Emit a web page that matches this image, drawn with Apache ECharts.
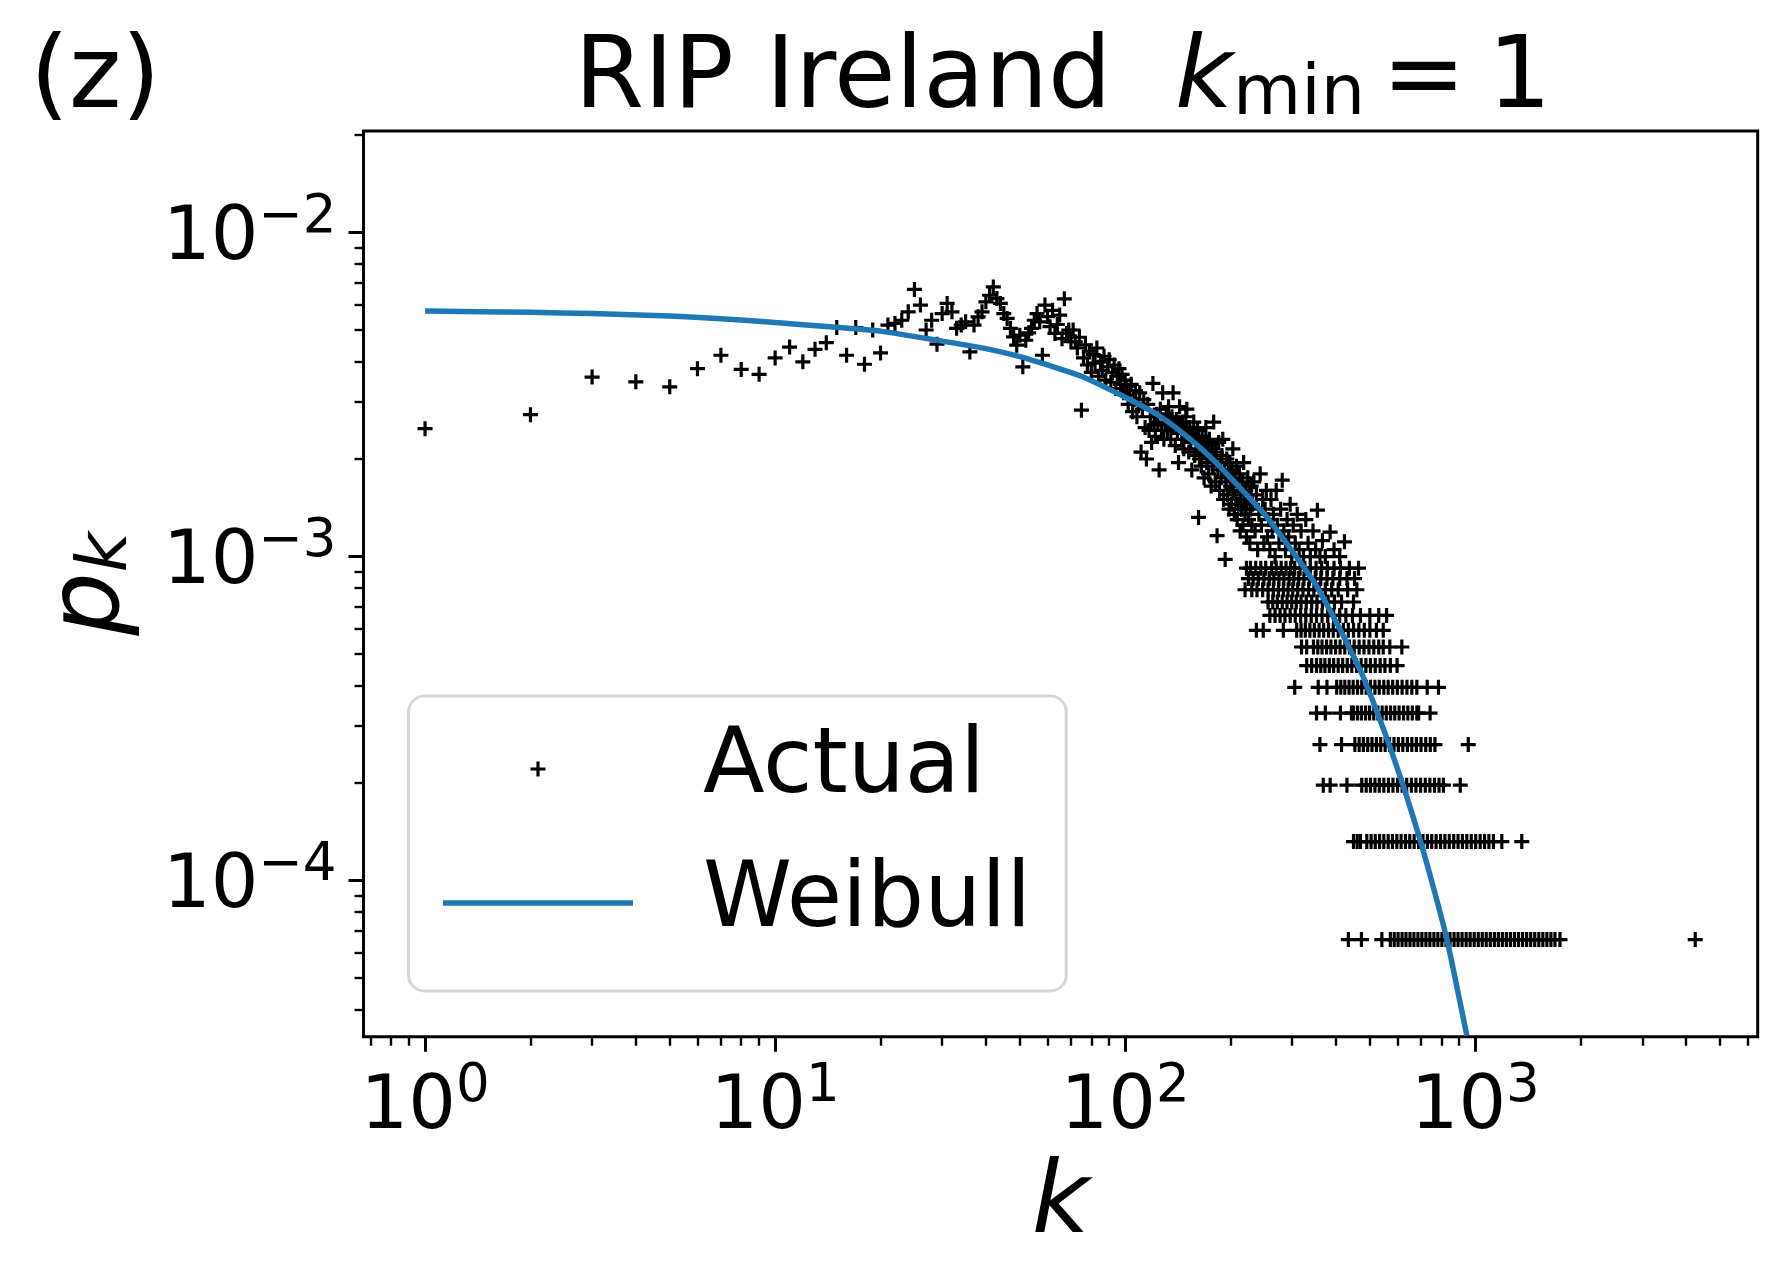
<!DOCTYPE html>
<html>
<head>
<meta charset="utf-8">
<script src="https://cdn.jsdelivr.net/npm/echarts@6/dist/echarts.min.js"></script>
<style>
  html, body { margin: 0; padding: 0; background: #fff; }
  #main { width: 1788px; height: 1283px; }
</style>
</head>
<body>
<div id="main"></div>
<script>
// degree distribution p_k
const kActual = [
  1, 2, 3, 4, 5, 6, 7, 8, 9, 10,
  11, 12, 13, 14, 15, 16, 17, 18, 19, 20,
  21, 22, 23, 24, 25, 26, 27, 28, 29, 30,
  31, 32, 33, 34, 35, 36, 37, 38, 39, 40,
  41, 42, 43, 44, 45, 46, 47, 48, 49, 50,
  51, 52, 53, 54, 55, 56, 57, 58, 59, 60,
  61, 62, 63, 64, 65, 66, 67, 68, 69, 70,
  71, 72, 73, 74, 75, 76, 77, 78, 79, 80,
  81, 82, 83, 84, 85, 86, 87, 88, 89, 90,
  91, 92, 93, 94, 95, 96, 97, 98, 99, 100,
  101, 102, 103, 104, 105, 106, 107, 108, 109, 110,
  111, 112, 113, 114, 115, 116, 117, 118, 119, 120,
  121, 122, 123, 124, 125, 126, 127, 128, 129, 130,
  131, 132, 133, 134, 135, 136, 137, 138, 139, 140,
  141, 142, 143, 144, 145, 146, 147, 148, 149, 150,
  151, 152, 153, 154, 155, 156, 157, 158, 159, 160,
  161, 162, 163, 164, 165, 166, 167, 168, 169, 170,
  171, 172, 173, 174, 175, 176, 177, 178, 179, 180,
  181, 182, 183, 184, 185, 186, 187, 188, 189, 190,
  191, 192, 193, 194, 195, 196, 197, 198, 199, 200,
  201, 202, 203, 204, 205, 206, 207, 208, 209, 210,
  211, 212, 213, 214, 215, 216, 217, 218, 219, 220,
  221, 222, 223, 224, 225, 226, 227, 228, 229, 230
];
const pActual = [
  2.48e-3, 2.74e-3, 3.58e-3, 3.46e-3, 3.34e-3, 3.80e-3, 4.18e-3, 3.78e-3, 3.65e-3, 4.10e-3,
  4.43e-3, 3.99e-3, 4.36e-3, 4.57e-3, 5.09e-3, 4.18e-3, 5.09e-3, 3.92e-3, 5.00e-3, 4.25e-3,
  5.18e-3, 5.24e-3, 5.36e-3, 5.69e-3, 6.67e-3, 5.97e-3, 5.00e-3, 5.36e-3, 4.52e-3, 5.62e-3,
  6.04e-3, 5.69e-3, 5.06e-3, 5.18e-3, 5.30e-3, 4.28e-3, 5.18e-3, 5.49e-3, 5.69e-3, 6.11e-3,
  6.40e-3, 6.79e-3, 6.25e-3, 6.04e-3, 5.62e-3, 5.43e-3, 5.06e-3, 4.76e-3, 4.49e-3, 4.82e-3,
  3.85e-3, 4.65e-3, 4.90e-3, 5.06e-3, 5.36e-3, 5.62e-3, 5.30e-3, 4.18e-3, 5.97e-3, 5.50e-3,
  5.12e-3, 5.75e-3, 4.88e-3, 5.20e-3, 5.56e-3, 4.70e-3, 6.24e-3, 4.88e-3, 5.00e-3, 4.60e-3,
  5.00e-3, 4.60e-3, 4.40e-3, 4.75e-3, 2.83e-3, 4.10e-3, 4.50e-3, 3.90e-3, 4.30e-3, 3.70e-3,
  4.20e-3, 3.95e-3, 4.40e-3, 3.60e-3, 4.00e-3, 3.75e-3, 4.15e-3, 3.50e-3, 3.85e-3, 4.05e-3,
  3.45e-3, 3.70e-3, 3.90e-3, 3.30e-3, 3.60e-3, 3.80e-3, 3.40e-3, 3.65e-3, 3.20e-3, 3.50e-3,
  3.35e-3, 2.95e-3, 3.15e-3, 3.40e-3, 2.80e-3, 3.05e-3, 3.25e-3, 2.70e-3, 2.95e-3, 3.20e-3,
  2.10e-3, 2.85e-3, 3.05e-3, 2.50e-3, 2.00e-3, 2.95e-3, 2.45e-3, 2.70e-3, 2.25e-3, 3.42e-3,
  2.55e-3, 2.35e-3, 2.75e-3, 2.60e-3, 1.85e-3, 2.85e-3, 2.45e-3, 3.20e-3, 2.30e-3, 2.55e-3,
  2.75e-3, 2.45e-3, 2.90e-3, 2.60e-3, 2.30e-3, 2.70e-3, 3.20e-3, 2.50e-3, 2.20e-3, 2.65e-3,
  2.40e-3, 1.95e-3, 2.90e-3, 2.55e-3, 2.30e-3, 2.60e-3, 2.15e-3, 2.45e-3, 2.70e-3, 2.85e-3,
  2.35e-3, 2.10e-3, 2.50e-3, 2.25e-3, 1.85e-3, 2.40e-3, 2.60e-3, 2.05e-3, 2.30e-3, 2.15e-3,
  2.45e-3, 1.32e-3, 2.00e-3, 2.25e-3, 1.90e-3, 2.35e-3, 2.10e-3, 1.75e-3, 2.20e-3, 2.50e-3,
  1.95e-3, 2.15e-3, 1.80e-3, 2.30e-3, 2.05e-3, 1.65e-3, 2.20e-3, 1.90e-3, 2.60e-3, 2.00e-3,
  1.70e-3, 2.10e-3, 1.16e-3, 1.85e-3, 2.25e-3, 1.60e-3, 1.95e-3, 1.75e-3, 2.05e-3, 2.30e-3,
  1.50e-3, 1.85e-3, 0.98e-3, 1.70e-3, 2.00e-3, 1.55e-3, 1.80e-3, 1.40e-3, 1.95e-3, 1.65e-3,
  1.45e-3, 1.85e-3, 2.15e-3, 1.60e-3, 1.35e-3, 1.75e-3, 1.50e-3, 1.90e-3, 1.30e-3, 1.65e-3,
  1.45e-3, 1.80e-3, 1.20e-3, 1.55e-3, 1.40e-3, 1.70e-3, 1.25e-3, 1.95e-3, 1.50e-3, 1.35e-3,
  1.60e-3, 1.15e-3, 1.45e-3, 1.75e-3, 1.30e-3, 1.55e-3, 1.10e-3, 1.40e-3, 1.65e-3, 1.25e-3
];

// upper part of the cloud between k = 230 and 430
const kUpper = [231, 233, 235, 237, 239, 241, 243, 245, 247, 249, 251, 253, 255, 257, 259, 261, 263,
  265, 268, 270, 272, 275, 278, 281, 284, 287, 290, 293, 296, 299, 302, 306, 310, 314, 318, 323, 328,
  333, 338, 344, 350, 354, 360, 366, 373, 385, 395, 410, 423];
const pUpper = [1.45e-3, 1.70e-3, 1.20e-3, 1.55e-3, 1.05e-3, 1.35e-3, 1.80e-3, 1.25e-3, 1.50e-3, 1.10e-3,
  1.40e-3, 1.60e-3, 1.15e-3, 1.30e-3, 1.05e-3, 1.50e-3, 1.20e-3, 1.35e-3, 1.00e-3, 1.60e-3,
  1.25e-3, 1.10e-3, 1.40e-3, 1.72e-3, 1.20e-3, 1.05e-3, 1.30e-3, 1.15e-3, 1.45e-3, 1.00e-3,
  1.25e-3, 1.10e-3, 1.35e-3, 1.05e-3, 1.20e-3, 1.00e-3, 1.30e-3, 1.10e-3, 1.00e-3, 1.20e-3,
  1.05e-3, 1.39e-3, 1.00e-3, 1.12e-3, 1.00e-3, 1.19e-3, 1.05e-3, 1.00e-3, 1.11e-3];

// the horizontal rows at large k (1, 2, 3 ... nodes of that degree)
const rowLevels = [6.58e-5, 1.32e-4, 1.97e-4, 2.63e-4, 3.29e-4, 3.95e-4, 4.61e-4,
  5.26e-4, 5.92e-4, 6.58e-4, 7.24e-4, 7.90e-4, 8.55e-4, 9.21e-4];
const rowK = [
  [434, 473, 541, 572, 587, 602, 618, 634, 651, 668, 686, 704, 723, 742, 762, 782, 803, 825, 847, 870,
   893, 917, 942, 967, 993, 1020, 1047, 1075, 1104, 1134, 1164, 1195, 1227, 1260, 1294, 1329, 1365,
   1402, 1440, 1479, 1519, 1560, 1602, 1645, 1689, 1746, 4250],
  [449, 460, 470, 490, 504, 518, 533, 548, 564, 580, 597, 614, 632, 650, 669, 689, 709, 730, 751, 773,
   796, 819, 843, 868, 893, 919, 946, 974, 1003, 1033, 1063, 1094, 1127, 1191, 1358],
  [368, 385, 430, 474, 488, 502, 517, 532, 548, 565, 582, 600, 618, 637, 657, 677, 698, 720, 742, 765,
   788, 811, 906],
  [360, 415, 453, 466, 479, 493, 507, 522, 537, 553, 569, 586, 603, 621, 640, 659, 679, 700, 722, 744,
   767, 955],
  [352, 373, 412, 443, 449, 461, 473, 486, 499, 513, 527, 542, 557, 573, 589, 606, 624, 642, 661, 681,
   689, 743],
  [305, 356, 377, 402, 413, 424, 436, 448, 461, 474, 488, 502, 517, 532, 548, 564, 581, 599, 618, 638,
   659, 681, 729, 785],
  [330, 341, 352, 362, 372, 383, 394, 406, 418, 431, 444, 458, 472, 487, 502, 518, 535, 552, 572, 598],
  [319, 330, 345, 355, 365, 376, 387, 399, 411, 424, 437, 451, 466, 481, 497, 513, 530, 546, 570, 617],
  [237, 248, 283, 309, 318, 327, 337, 347, 358, 369, 381, 393, 406, 420, 434, 449, 465, 482, 500, 522, 546],
  [259, 268, 277, 286, 296, 306, 317, 328, 340, 352, 365, 379, 394, 410, 427, 446, 470, 500, 530, 558],
  [256, 264, 272, 281, 290, 299, 308, 318, 329, 341, 353, 366, 380, 396, 415, 449],
  [220, 230, 238, 247, 256, 265, 274, 283, 292, 301, 311, 322, 334, 346, 359, 373, 389, 406, 432, 459],
  [225, 232, 240, 249, 258, 266, 275, 284, 294, 303, 313, 324, 336, 349, 362, 377, 392, 410, 430, 452],
  [222, 228, 236, 244, 252, 262, 270, 279, 288, 297, 305, 316, 326, 338, 351, 364, 378, 395, 412, 437, 464]
];

// fitted Weibull curve
const kWeibull = [1, 2, 3, 5, 7, 10, 15, 20, 30, 40, 50, 60, 75, 100, 125, 150, 175, 200, 250, 300,
  350, 400, 450, 480, 546, 617, 695, 760, 829, 890, 946];
const pWeibull = [5.72e-3, 5.67e-3, 5.62e-3, 5.52e-3, 5.42e-3, 5.27e-3, 5.10e-3, 4.96e-3, 4.62e-3, 4.38e-3,
  4.14e-3, 3.90e-3, 3.60e-3, 3.10e-3, 2.72e-3, 2.35e-3, 2.03e-3, 1.75e-3, 1.35e-3, 1.04e-3,
  8.2e-4, 6.3e-4, 4.9e-4, 4.22e-4, 2.95e-4, 2.02e-4, 1.34e-4, 9.5e-5, 6.62e-5, 4.6e-5, 3.33e-5];

const xTicks = [1, 10, 100, 1000];
const yTicks = [1e-4, 1e-3, 1e-2];
const xMinor = [0.7, 0.8, 0.9, 2, 3, 4, 5, 6, 7, 8, 9, 20, 30, 40, 50, 60, 70, 80, 90,
  200, 300, 400, 500, 600, 700, 800, 900, 2000, 3000, 4000, 5000, 6000];
const yMinor = [4e-5, 5e-5, 6e-5, 7e-5, 8e-5, 9e-5, 2e-4, 3e-4, 4e-4, 5e-4, 6e-4, 7e-4, 8e-4, 9e-4,
  2e-3, 3e-3, 4e-3, 5e-3, 6e-3, 7e-3, 8e-3, 9e-3, 2e-2];
const xLimits = [0.667, 6410];
const yLimits = [3.30e-5, 2.056e-2];

const lg = Math.log10;
const FONT = 'DejaVu Sans';
const PLUS = 'path://M0,5.9H5.9V0H9.1V5.9H15V9.1H9.1V15H5.9V9.1H0Z';
const LINE_ICON = 'path://M0,0H190V5.5H0Z';

let actualData = kActual.map((k, i) => [lg(k), lg(pActual[i])]);
kUpper.forEach((k, i) => actualData.push([lg(k), lg(pUpper[i])]));
rowK.forEach((ks, r) => {
  ks.forEach(k => actualData.push([lg(k), lg(rowLevels[r])]));
});
let weibullData = kWeibull.map((k, i) => [lg(k), lg(pWeibull[i])]);

function powLabel(v) {
  let e = Math.round(v);
  return '{b|10}{s|' + (e < 0 ? '\u2212' + (-e) : e) + '}';
}
const tickRich = {
  b: { fontFamily: FONT, fontSize: 75, lineHeight: 96, color: '#000' },
  s: { fontFamily: FONT, fontSize: 53, lineHeight: 54, verticalAlign: 'top', color: '#000' }
};

function mainAxis(ticks, limits, extra) {
  return Object.assign({
    type: 'value',
    min: lg(limits[0]),
    max: lg(limits[1]),
    axisLine: { show: false, onZero: false },
    splitLine: { show: false },
    axisTick: {
      show: true, customValues: ticks.map(lg), length: 15,
      lineStyle: { color: '#000', width: 3 }
    }
  }, extra);
}
function minorAxis(ticks, limits, pos) {
  return {
    type: 'value',
    position: pos,
    min: lg(limits[0]),
    max: lg(limits[1]),
    axisLine: { show: false, onZero: false },
    splitLine: { show: false },
    axisLabel: { show: false },
    axisTick: {
      show: true, customValues: ticks.map(lg), length: 9,
      lineStyle: { color: '#000', width: 2.4 }
    }
  };
}

var myChart = echarts.init(document.getElementById('main'));

let option = {
  animation: false,
  backgroundColor: '#fff',
  grid: {
    left: 363.5, top: 131, right: 30.3, bottom: 246.3,
    containLabel: false, outerBoundsMode: 'none',
    show: true, borderColor: '#000', borderWidth: 3, backgroundColor: 'transparent'
  },
  xAxis: [
    mainAxis(xTicks, xLimits, {
      position: 'bottom',
      axisLabel: {
        show: true, customValues: xTicks.map(lg), formatter: powLabel, margin: 24,
        fontFamily: FONT, fontSize: 75, color: '#000', rich: tickRich
      },
      name: 'k', nameLocation: 'middle', nameGap: 119, nameMoveOverlap: false,
      nameTextStyle: { fontFamily: FONT, fontStyle: 'italic', fontSize: 100, lineHeight: 100, color: '#000' }
    }),
    minorAxis(xMinor, xLimits, 'bottom')
  ],
  yAxis: [
    mainAxis(yTicks, yLimits, {
      position: 'left',
      axisLabel: {
        show: true, customValues: yTicks.map(lg), formatter: powLabel, margin: 27,
        padding: [14, 0, 0, 0],
        fontFamily: FONT, fontSize: 75, color: '#000', rich: tickRich
      },
      name: '{p|p}{s|k}', nameLocation: 'middle', nameRotate: 90, nameGap: 221, nameMoveOverlap: false,
      nameTextStyle: {
        fontFamily: FONT, fontSize: 100, lineHeight: 100, color: '#000',
        rich: {
          p: { fontFamily: FONT, fontStyle: 'italic', fontSize: 100, lineHeight: 100, color: '#000' },
          s: { fontFamily: FONT, fontStyle: 'italic', fontSize: 70, lineHeight: 52, verticalAlign: 'bottom', color: '#000' }
        }
      }
    }),
    minorAxis(yMinor, yLimits, 'left')
  ],
  legend: {
    orient: 'vertical',
    left: 408.5, top: 696,
    padding: [23, 35, 38, 34.5],
    itemWidth: 190, itemHeight: 15, itemGap: 34,
    selectedMode: false,
    backgroundColor: '#fff',
    borderColor: '#d5d5d5', borderWidth: 3, borderRadius: 16,
    textStyle: { fontFamily: FONT, fontSize: 90, lineHeight: 84, color: '#000', padding: [16, 0, 0, 65] },
    data: [{ name: 'Actual', icon: PLUS }, { name: 'Weibull', icon: LINE_ICON }]
  },
  graphic: [
    {
      type: 'text', x: 30, y: 81,
      style: {
        text: '(z)', fontFamily: FONT, fontSize: 100, fill: '#000',
        align: 'left', verticalAlign: 'middle'
      }
    },
    {
      type: 'text', x: 1063, y: 81,
      style: {
        text: '{n|RIP Ireland  }{i|k}{s|min}{e|=}{n|1}',
        fontFamily: FONT, fontSize: 100, fill: '#000',
        align: 'center', verticalAlign: 'middle',
        rich: {
          n: { fontFamily: FONT, fontSize: 100, lineHeight: 100, fill: '#000' },
          i: { fontFamily: FONT, fontStyle: 'italic', fontSize: 100, lineHeight: 100, fill: '#000' },
          s: { fontFamily: FONT, fontSize: 70, lineHeight: 24, verticalAlign: 'bottom', fill: '#000' },
          e: { fontFamily: FONT, fontSize: 100, lineHeight: 100, padding: [0, 22, 0, 17], fill: '#000' }
        }
      }
    }
  ],
  series: [
    {
      name: 'Actual',
      type: 'scatter',
      symbol: PLUS,
      symbolSize: 15,
      itemStyle: { color: '#000', opacity: 1 },
      silent: true,
      data: actualData
    },
    {
      name: 'Weibull',
      type: 'line',
      symbol: 'none',
      showSymbol: false,
      smooth: 0.2,
      lineStyle: { color: '#1f77b4', width: 5.5 },
      itemStyle: { color: '#1f77b4' },
      silent: true,
      data: weibullData
    }
  ]
};

myChart.setOption(option);
</script>
</body>
</html>
